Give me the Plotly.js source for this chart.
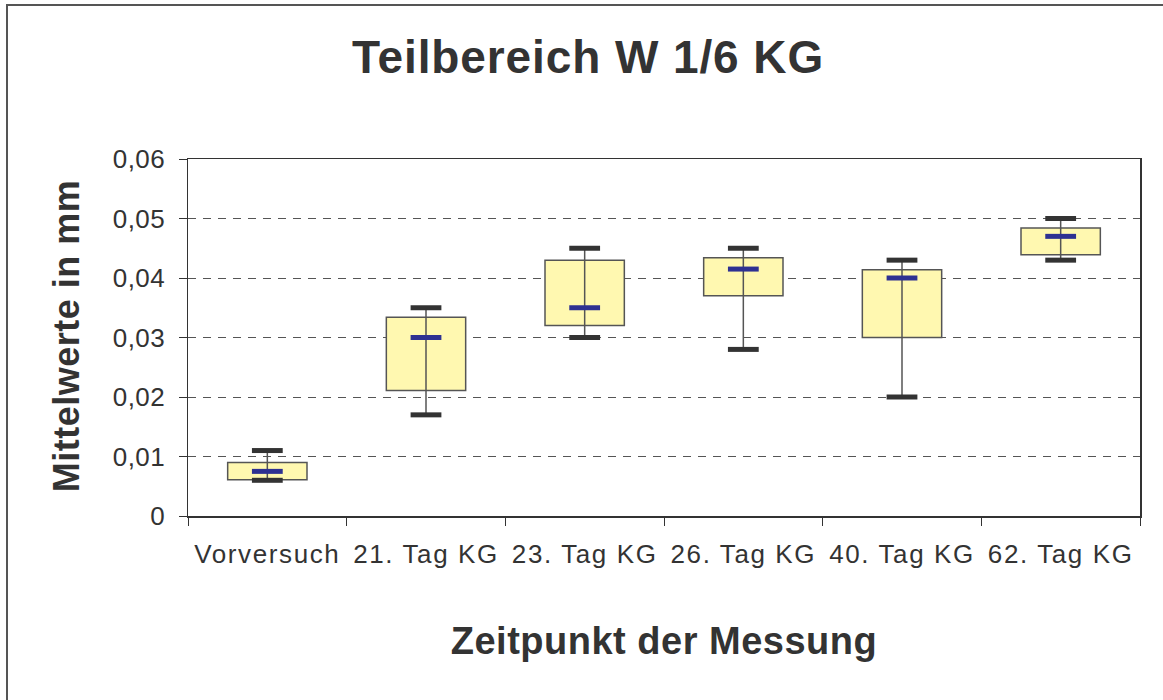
<!DOCTYPE html>
<html>
<head>
<meta charset="utf-8">
<script src="https://cdn.plot.ly/plotly-3.0.1.min.js"></script>
<style>
  html, body { margin: 0; padding: 0; background: #fff; }
  #chart { width: 1163px; height: 700px; }
  #chart .xtick text { letter-spacing: 1.6px; }
  #chart .ytick text { letter-spacing: 0.5px; }
  #chart .gtitle { letter-spacing: 0.9px; }
  #chart .annotation-text { letter-spacing: 0.5px; }
</style>
</head>
<body>
<div id="chart"></div>
<script>
// Data
const categories = ["Vorversuch", "21. Tag KG", "23. Tag KG", "26. Tag KG", "40. Tag KG", "62. Tag KG"];
const minValues    = [0.0060, 0.0170, 0.0300, 0.0280, 0.0200, 0.0430];
const q1Values     = [0.0061, 0.0211, 0.0320, 0.0370, 0.0300, 0.0439];
const meanValues   = [0.0075, 0.0300, 0.0350, 0.0415, 0.0400, 0.0470];
const q3Values     = [0.0090, 0.0334, 0.0430, 0.0434, 0.0414, 0.0484];
const maxValues    = [0.0110, 0.0350, 0.0450, 0.0450, 0.0430, 0.0500];
const yTickValues  = [0, 0.01, 0.02, 0.03, 0.04, 0.05, 0.06];

const chartTitle = "Teilbereich W 1/6 KG";
const xTitle = "Zeitpunkt der Messung";
const yTitle = "Mittelwerte in mm";

const font = "Liberation Sans, Arial, Helvetica, sans-serif";
const textColor = "#333333";

// Whisker lines built from the arrays
const wx = [], wy = [];
categories.forEach((c, i) => {
  wx.push(c, c, null);
  wy.push(minValues[i], maxValues[i], null);
});

const traces = [
  {
    type: "bar",
    x: categories,
    base: q1Values,
    y: q3Values.map((v, i) => v - q1Values[i]),
    width: 0.5,
    marker: { color: "#FFF8B0", line: { color: "#555555", width: 1.5 } },
    hoverinfo: "skip",
    showlegend: false
  },
  {
    type: "scatter",
    mode: "lines",
    x: wx,
    y: wy,
    line: { color: "#555555", width: 1.5 },
    connectgaps: false,
    hoverinfo: "skip",
    showlegend: false
  },
  {
    type: "scatter",
    mode: "markers",
    x: categories.concat(categories),
    y: minValues.concat(maxValues),
    marker: { symbol: "line-ew", size: 22, line: { color: "#333333", width: 5 } },
    hoverinfo: "skip",
    showlegend: false
  },
  {
    type: "scatter",
    mode: "markers",
    x: categories,
    y: meanValues,
    marker: { symbol: "line-ew", size: 22, line: { color: "#2E3192", width: 5 } },
    hoverinfo: "skip",
    showlegend: false
  }
];

const L = 188, R = 1140, T = 159, B = 516;
const W = R - L, H = B - T;
const px = x => (x - L) / W;
const py = y => (B - y) / H;

const layout = {
  width: 1163,
  height: 700,
  paper_bgcolor: "#ffffff",
  plot_bgcolor: "#ffffff",
  separators: ", ",
  margin: { l: L, r: 1163 - R, t: T, b: 700 - B, pad: 0 },
  font: { family: font, color: textColor },
  title: {
    text: "<b>" + chartTitle + "</b>",
    font: { family: font, size: 46, color: textColor },
    xref: "container", yref: "container",
    x: 588 / 1163, y: 1 - 57 / 700,
    xanchor: "center", yanchor: "middle"
  },
  xaxis: {
    type: "category",
    categoryorder: "array",
    categoryarray: categories,
    range: [-0.5, categories.length - 0.5],
    tickson: "boundaries",
    ticks: "outside",
    ticklen: 8,
    tickwidth: 1,
    tickcolor: "#333333",
    ticklabelstandoff: 14,
    showline: true,
    mirror: true,
    linecolor: "#333333",
    linewidth: 1.5,
    showgrid: false,
    zeroline: false,
    tickfont: { family: font, size: 26, color: textColor },
    fixedrange: true
  },
  yaxis: {
    range: [0, 0.06],
    tickvals: yTickValues,
    ticks: "outside",
    ticklen: 8,
    tickwidth: 1,
    tickcolor: "#333333",
    ticklabelstandoff: 8,
    showline: true,
    mirror: true,
    linecolor: "#333333",
    linewidth: 1.5,
    showgrid: true,
    gridcolor: "#555555",
    gridwidth: 1,
    griddash: "8px,7px",
    zeroline: false,
    tickfont: { family: font, size: 26, color: textColor },
    fixedrange: true
  },
  annotations: [
    {
      text: "<b>" + xTitle + "</b>",
      xref: "paper", yref: "paper",
      x: 0.5, y: py(641),
      xanchor: "center", yanchor: "middle",
      showarrow: false,
      font: { family: font, size: 38, color: textColor }
    },
    {
      text: "<b>" + yTitle + "</b>",
      xref: "paper", yref: "paper",
      x: px(66), y: py(336),
      xanchor: "center", yanchor: "middle",
      textangle: -90,
      showarrow: false,
      font: { family: font, size: 36, color: textColor }
    }
  ],
  shapes: [
    {
      type: "rect",
      xref: "paper", yref: "paper",
      x0: px(7), x1: px(1175),
      y0: py(715), y1: py(5),
      line: { color: "#555555", width: 2 },
      fillcolor: "rgba(0,0,0,0)",
      layer: "above"
    }
  ],
  showlegend: false,
  bargap: 0
};

Plotly.newPlot("chart", traces, layout, { displayModeBar: false, staticPlot: true });
</script>
</body>
</html>
